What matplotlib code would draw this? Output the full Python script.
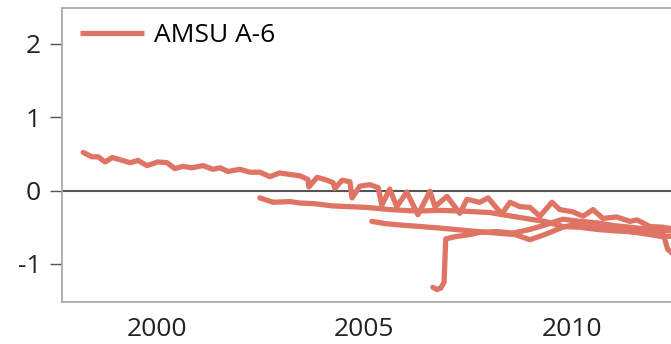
import matplotlib.pyplot as plt

# AMSU A-6 drift records, one list pair per satellite
yr_a = [1998.22, 1998.43, 1998.58, 1998.75, 1998.92, 1999.11, 1999.35, 1999.54, 1999.76, 2000.02,
        2000.24, 2000.43, 2000.63, 2000.84, 2001.11, 2001.35, 2001.52, 2001.71, 2002.00, 2002.24,
        2002.48, 2002.72, 2002.96, 2003.20, 2003.45, 2003.64, 2003.66, 2003.86, 2004.05, 2004.24,
        2004.29, 2004.46, 2004.65, 2004.70, 2004.89, 2005.13, 2005.33, 2005.42, 2005.61, 2005.78,
        2006.02, 2006.29, 2006.58, 2006.70, 2006.99, 2007.30, 2007.47, 2007.78, 2007.98, 2008.31,
        2008.51, 2008.75, 2008.99, 2009.23, 2009.52, 2009.71, 2010.02, 2010.27, 2010.51, 2010.75,
        2011.08, 2011.40, 2011.57, 2011.88, 2012.19, 2012.41]
val_a = [0.52, 0.46, 0.46, 0.39, 0.45, 0.42, 0.38, 0.41, 0.34, 0.39,
         0.38, 0.30, 0.33, 0.31, 0.34, 0.29, 0.31, 0.26, 0.29, 0.25,
         0.25, 0.19, 0.24, 0.22, 0.20, 0.15, 0.05, 0.18, 0.15, 0.11,
         0.03, 0.14, 0.12, -0.10, 0.06, 0.08, 0.04, -0.20, 0.02, -0.22,
         -0.02, -0.33, -0.01, -0.22, -0.08, -0.31, -0.12, -0.16, -0.10, -0.32,
         -0.16, -0.22, -0.23, -0.35, -0.16, -0.26, -0.29, -0.35, -0.26, -0.38,
         -0.36, -0.42, -0.40, -0.49, -0.50, -0.52]

yr_b = [2002.48, 2002.80, 2003.20, 2003.45, 2003.81, 2004.24, 2004.65, 2005.06, 2005.61, 2006.27,
        2006.82, 2007.37, 2008.02, 2008.34, 2008.99, 2009.35, 2009.78, 2010.19, 2010.60, 2011.04,
        2011.40, 2011.88, 2012.19, 2012.41]
val_b = [-0.10, -0.16, -0.15, -0.17, -0.18, -0.21, -0.22, -0.23, -0.26, -0.28,
         -0.27, -0.28, -0.30, -0.33, -0.39, -0.42, -0.49, -0.50, -0.53, -0.55,
         -0.56, -0.60, -0.63, -0.62]

yr_c = [2005.18, 2005.49, 2005.86, 2006.34, 2006.99, 2007.54, 2008.19, 2008.63, 2008.99, 2009.35,
        2009.78, 2010.19, 2010.60, 2011.04, 2011.40, 2011.76, 2012.19, 2012.31, 2012.41]
val_c = [-0.42, -0.45, -0.47, -0.49, -0.52, -0.55, -0.58, -0.60, -0.67, -0.60,
         -0.50, -0.45, -0.46, -0.52, -0.56, -0.58, -0.57, -0.80, -0.85]

yr_d = [2006.65, 2006.75, 2006.84, 2006.92, 2006.96, 2007.18, 2007.54, 2007.78, 2008.19, 2008.58,
        2008.99, 2009.35, 2009.78, 2010.19, 2010.60, 2011.04, 2011.40, 2011.88, 2012.41]
val_d = [-1.32, -1.35, -1.33, -1.25, -0.66, -0.63, -0.60, -0.57, -0.56, -0.58,
         -0.53, -0.47, -0.39, -0.42, -0.44, -0.48, -0.50, -0.53, -0.55]

color = '#e07464'
plt.rcParams['font.family'] = ['Open Sans', 'DejaVu Sans']

fig = plt.figure(figsize=(6.71, 3.44), dpi=100)
ax = fig.add_axes([0.0924, 0.122, 0.9076, 0.855])

ax.axhline(0, color='#555555', linewidth=1.5, zorder=1)

ax.plot(yr_a, val_a, color=color, linewidth=3.8, solid_joinstyle='round',
        solid_capstyle='round', label='AMSU A-6', zorder=2)
for yr, val in [(yr_b, val_b), (yr_c, val_c), (yr_d, val_d)]:
    ax.plot(yr, val, color=color, linewidth=3.8, solid_joinstyle='round',
            solid_capstyle='round', zorder=2)

ax.set_xlim(1997.71, 2012.39)
ax.set_ylim(-1.52, 2.49)
ax.set_xticks([2000, 2005, 2010])
ax.set_yticks([-1, 0, 1, 2])
ax.set_yticklabels(['-1', '0', '1', '2'])

for side in ['left', 'top', 'bottom']:
    ax.spines[side].set_color('#aaaaaa')
    ax.spines[side].set_linewidth(1.3)
ax.spines['right'].set_visible(False)

ax.tick_params(axis='y', length=9, width=1.0, color='#555555', pad=6, labelsize=19, labelcolor='#222222')
ax.tick_params(axis='x', length=0, pad=11, labelsize=19, labelcolor='#222222')

leg = ax.legend(loc='upper left', frameon=False, fontsize=19, handlelength=2.4, handletextpad=0.4,
                borderaxespad=0.3, bbox_to_anchor=(0.0, 1.01))
leg.get_lines()[0].set_solid_capstyle('butt')

fig.savefig('out.png', dpi=100)
